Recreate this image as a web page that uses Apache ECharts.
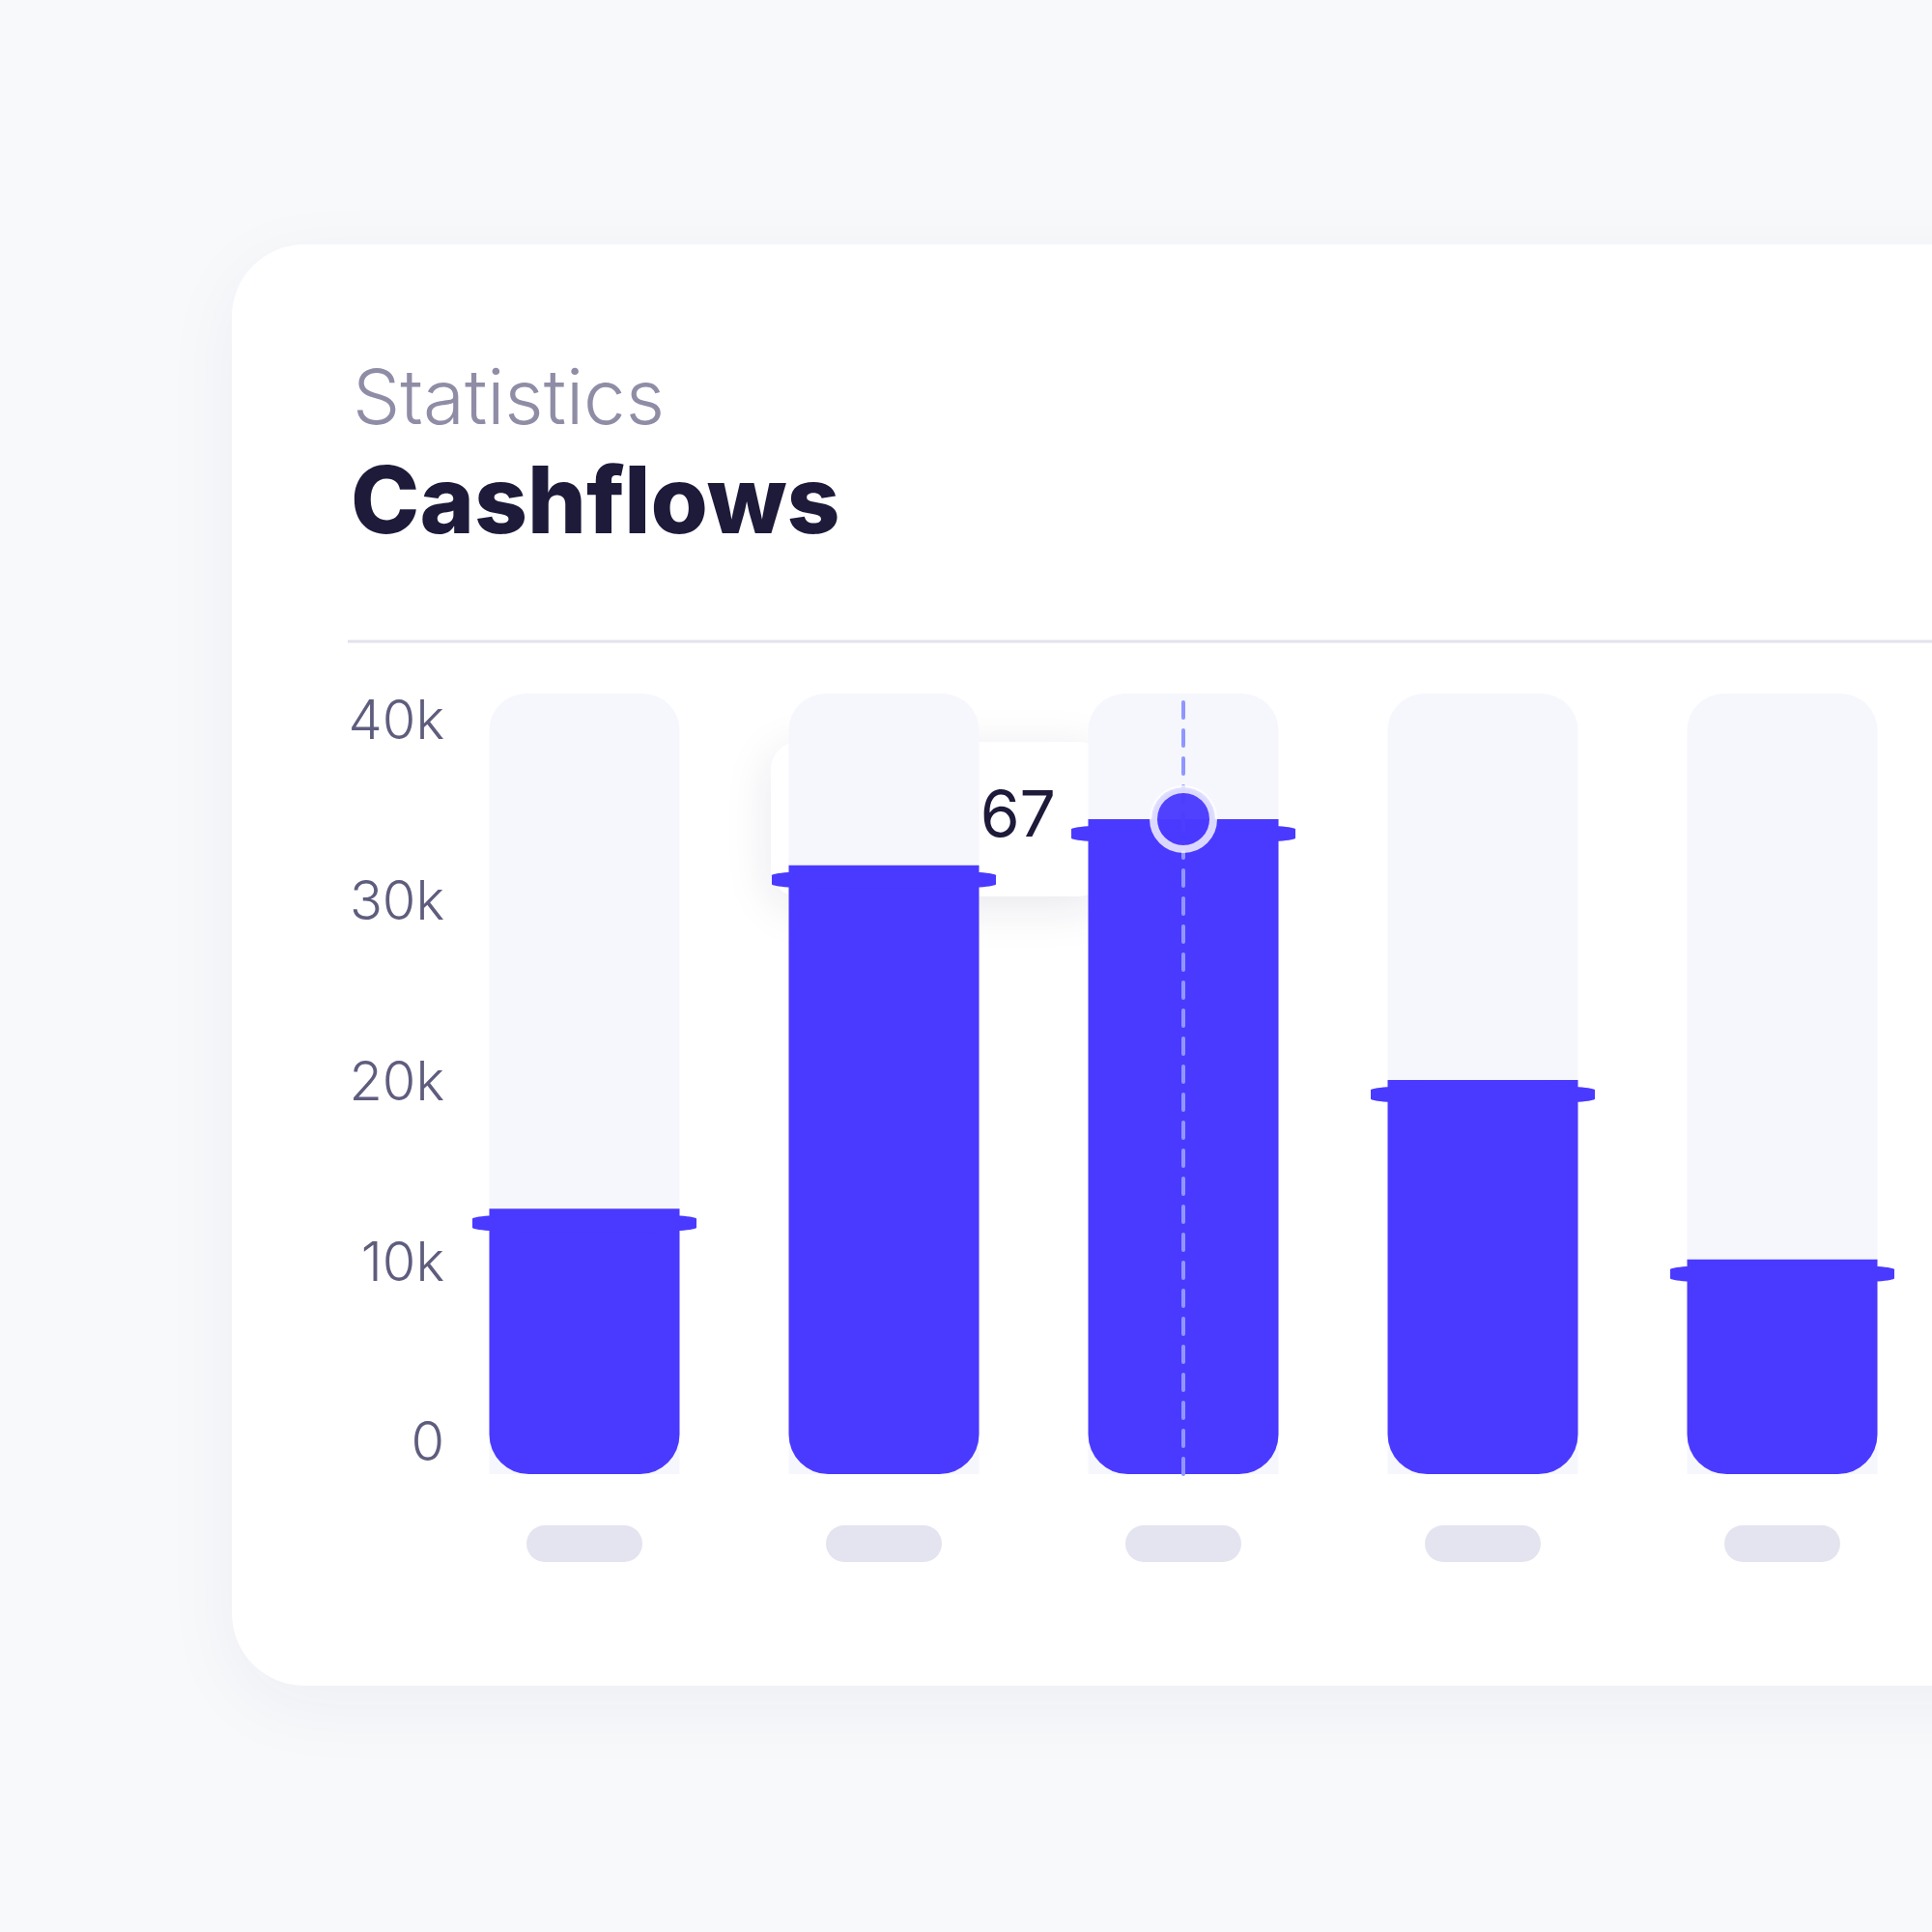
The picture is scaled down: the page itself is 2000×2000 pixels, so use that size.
<!DOCTYPE html>
<html>
<head>
<meta charset="utf-8">
<script src="https://cdn.jsdelivr.net/npm/echarts@6/dist/echarts.min.js"></script>
<style>
  html, body { margin: 0; padding: 0; background: #f8f9fb; }
  #chart { width: 2000px; height: 2000px; }
</style>
</head>
<body>
<div id="chart"></div>
<script>
const categories = ['A', 'B', 'C', 'D', 'E'];
const cashflows = [13600, 31200, 33567, 20200, 11000];
const trackMax = [40000, 40000, 40000, 40000, 40000];
const tickValues = [0, 10000, 20000, 30000, 40000];
const activeIndex = 2;

const blue = '#4a3aff';
const chart = echarts.init(document.getElementById('chart'));

chart.setOption({
  backgroundColor: '#f8f9fb',
  animation: false,
  title: [
    { text: 'Statistics', left: 360, top: 372,
      textStyle: { fontFamily: 'Inter', fontWeight: 300, fontSize: 78, color: '#8f8da6' } },
    { text: 'Cashflows', left: 358, top: 470,
      textStyle: { fontFamily: 'Inter', fontWeight: 800, fontSize: 96, color: '#1d1a3a' } }
  ],
  grid: { left: 450, top: 718, width: 1706, height: 808 },
  xAxis: {
    type: 'category',
    data: categories,
    axisLine: { show: false },
    axisTick: { show: false },
    axisLabel: {
      margin: 53,
      formatter: () => '{p|}',
      rich: { p: { width: 120, height: 38, backgroundColor: '#e4e4f0', borderRadius: 19 } }
    }
  },
  yAxis: [
    { type: 'value', min: 0, max: 40000, show: false },
    {
      type: 'value', position: 'left', min: -1641, max: 41641,
      splitLine: { show: false }, axisLine: { show: false }, axisTick: { show: false },
      axisLabel: {
        customValues: tickValues,
        margin: -10,
        formatter: v => (v === 0 ? '0' : v / 1000 + 'k'),
        fontFamily: 'Inter', fontWeight: 300, fontSize: 56, color: '#5f5d7e'
      }
    }
  ],
  series: [
    {
      type: 'bar', data: trackMax, barWidth: 197, barGap: '-100%', silent: true,
      itemStyle: { color: '#f6f7fd', borderRadius: [38, 38, 0, 0] }
    },
    {
      type: 'bar', data: cashflows, barWidth: 197, z: 3,
      itemStyle: { color: blue, borderRadius: [0, 0, 41, 41] },
      markLine: {
        symbol: 'none', silent: true, label: { show: false },
        lineStyle: { color: '#8f97ff', type: [16, 13], width: 4, cap: 'round' },
        data: [{ xAxis: activeIndex }]
      }
    },
    {
      type: 'pictorialBar', data: cashflows, z: 4,
      symbol: 'roundRect', symbolSize: [232, 18], symbolPosition: 'end',
      symbolOffset: [0, 6], itemStyle: { color: blue }
    },
    {
      type: 'scatter', z: 6, symbolSize: 62,
      data: [[activeIndex, cashflows[activeIndex]]],
      itemStyle: { color: blue, borderColor: '#ffffff', borderWidth: 8, shadowColor: blue, shadowBlur: 0 }
    },
    {
      type: 'scatter', z: 5, symbolSize: 66,
      data: [[activeIndex, cashflows[activeIndex]]],
      itemStyle: { color: blue }
    }
  ]
});

// tooltip bubble pinned to the active bar
const p = chart.convertToPixel({ xAxisIndex: 0, yAxisIndex: 0 }, [activeIndex, cashflows[activeIndex]]);
const bx = p[0] - 427, by = p[1] - 80, bw = 347, bh = 160;
chart.setOption({
  graphic: [
    { type: 'rect', z: -10, shape: { x: 240, y: 253, width: 1900, height: 1492, r: 75 },
      style: { fill: '#ffffff', shadowColor: 'rgba(30,30,80,0.05)', shadowBlur: 80, shadowOffsetY: 20 } },
    { type: 'line', z: -9, shape: { x1: 360, y1: 664, x2: 2000, y2: 664 },
      style: { stroke: '#e3e2ec', lineWidth: 3 } },
    { type: 'group', z: 100, children: [
      { type: 'polygon', shape: { points: [[bx + bw - 5, by + 50], [p[0] - 50, p[1]], [bx + bw - 5, by + 110]] },
        style: { fill: '#ffffff', shadowColor: 'rgba(30,30,80,0.10)', shadowBlur: 40 } },
      { type: 'rect', shape: { x: bx, y: by, width: bw, height: bh, r: 28 },
        style: { fill: '#ffffff', shadowColor: 'rgba(30,30,80,0.10)', shadowBlur: 50, shadowOffsetY: 10 } },
      { type: 'polygon', shape: { points: [[bx + bw - 5, by + 50], [p[0] - 50, p[1]], [bx + bw - 5, by + 110]] },
        style: { fill: '#ffffff' } },
      { type: 'text', style: {
          x: bx + bw / 2 - 8, y: by + bh / 2 - 2, text: '$' + cashflows[activeIndex].toLocaleString('en-US'),
          align: 'center', verticalAlign: 'middle',
          font: '400 66px Inter', fill: '#1d1a3a' } }
    ] }
  ]
});
</script>
</body>
</html>
